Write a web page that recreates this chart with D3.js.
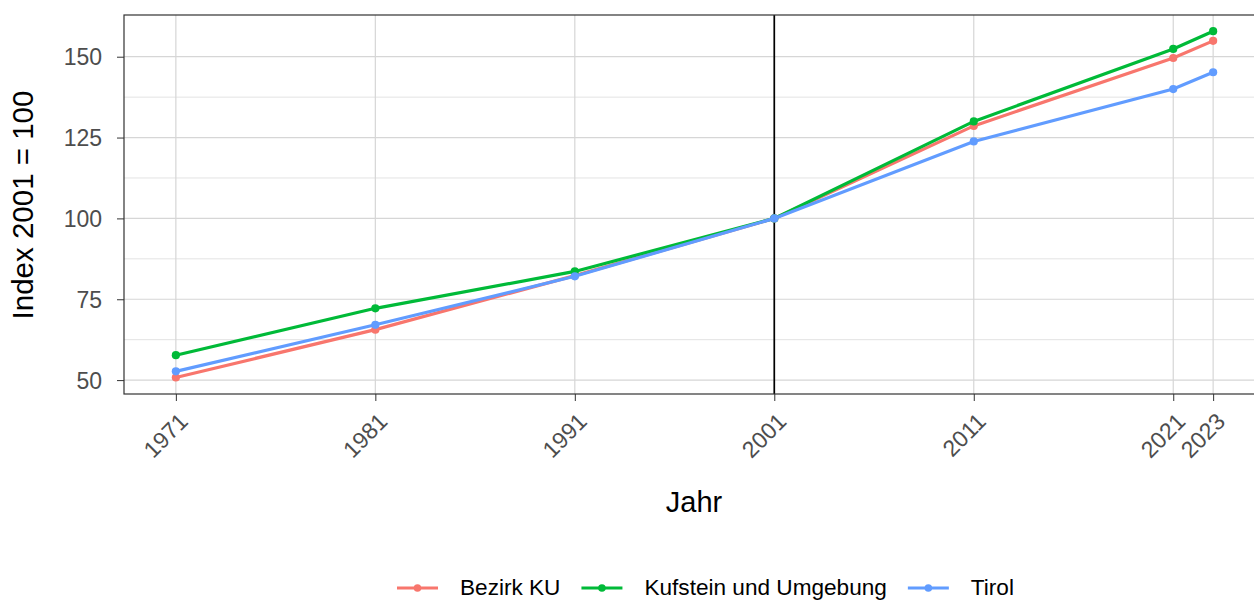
<!DOCTYPE html>
<html><head><meta charset="utf-8">
<script src="https://cdn.jsdelivr.net/npm/d3@7"></script>
<style>body{margin:0;background:#fff}svg{display:block;font-family:"Liberation Sans",Arial,sans-serif}</style>
</head><body><svg id="c" width="1254" height="600"></svg>
<script>
const years = [1971, 1981, 1991, 2001, 2011, 2021, 2023];
const seriesNames = ["Bezirk KU", "Kufstein und Umgebung", "Tirol"];
const bezirkKU = [50.8, 65.6, 82.3, 100, 128.6, 149.6, 154.9];
const kufstein = [57.7, 72.2, 83.6, 100, 130.0, 152.4, 157.9];
const tirol = [52.7, 67.1, 82.1, 100, 123.8, 140.0, 145.2];
const colors = ["#F8766D", "#00BA38", "#619CFF"];
const yTicks = [50, 75, 100, 125, 150];
const yMinor = [62.5, 87.5, 112.5, 137.5];
const refYear = 2001;

const svg = d3.select("#c");
const L = 124, R = 1265, T = 15, B = 394;
const x = d3.scaleLinear().domain([1971 - 2.6, 2023 + 2.6]).range([L, R]);
const y = d3.scaleLinear().domain([45.7, 162.9]).range([B, T]);

const g = svg.append("g");
g.selectAll(".mi").data(yMinor).join("line").attr("x1", L).attr("x2", R)
  .attr("y1", d => y(d)).attr("y2", d => y(d)).attr("stroke", "#E3E3E3").attr("stroke-width", 1);
g.selectAll(".ma").data(yTicks).join("line").attr("x1", L).attr("x2", R)
  .attr("y1", d => y(d)).attr("y2", d => y(d)).attr("stroke", "#D6D6D6").attr("stroke-width", 1.2);
g.selectAll(".mx").data(years).join("line").attr("y1", T).attr("y2", B)
  .attr("x1", d => x(d)).attr("x2", d => x(d)).attr("stroke", "#D6D6D6").attr("stroke-width", 1.2);

g.append("line").attr("x1", x(refYear)).attr("x2", x(refYear)).attr("y1", T).attr("y2", B)
  .attr("stroke", "#000").attr("stroke-width", 1.7);

const all = [bezirkKU, kufstein, tirol];
const line = d3.line().x((d, i) => x(years[i])).y(d => y(d));
all.forEach((vals, s) => {
  g.append("path").datum(vals).attr("d", line).attr("fill", "none")
    .attr("stroke", colors[s]).attr("stroke-width", 3.2);
  g.selectAll(".p" + s).data(vals).join("circle")
    .attr("cx", (d, i) => x(years[i])).attr("cy", d => y(d)).attr("r", 4.1).attr("fill", colors[s]);
});

g.append("rect").attr("x", L).attr("y", T).attr("width", R - L).attr("height", B - T)
  .attr("fill", "none").attr("stroke", "#333").attr("stroke-width", 1.2);

const yAxis = d3.axisLeft(y).tickValues(yTicks).tickSize(7);
const ya = svg.append("g").attr("transform", `translate(${L},0)`).call(yAxis);
ya.select(".domain").remove();
ya.selectAll(".tick line").attr("stroke", "#333");
ya.selectAll(".tick text").attr("fill", "#4D4D4D").style("font-size", "23px").attr("x", -22).attr("dy", "0.36em");

const xAxis = d3.axisBottom(x).tickValues(years).tickFormat(d3.format("d")).tickSize(7);
const xa = svg.append("g").attr("transform", `translate(0,${B})`).call(xAxis);
xa.select(".domain").remove();
xa.selectAll(".tick line").attr("stroke", "#333");
xa.selectAll(".tick text").attr("fill", "#4D4D4D").style("font-size", "23px")
  .attr("text-anchor", "end").attr("dy", null).attr("y", null)
  .attr("transform", "translate(13,29) rotate(-45)");

svg.append("text").attr("x", 694).attr("y", 512).attr("text-anchor", "middle")
  .style("font-size", "29px").attr("fill", "#000").text("Jahr");
svg.append("text").attr("transform", `translate(33,205) rotate(-90)`).attr("text-anchor", "middle")
  .style("font-size", "29.5px").attr("fill", "#000").text("Index 2001 = 100");

let lx = 397;
const ly = 588;
seriesNames.forEach((n, i) => {
  const lg = svg.append("g").attr("transform", `translate(${lx},${ly})`);
  lg.append("line").attr("x1", 0).attr("x2", 41).attr("stroke", colors[i]).attr("stroke-width", 3.2);
  lg.append("circle").attr("cx", 20.5).attr("r", 3.8).attr("fill", colors[i]);
  const t = lg.append("text").attr("x", 63).attr("y", 7).style("font-size", "22.6px").attr("fill", "#000").text(n);
  lx += 63 + t.node().getComputedTextLength() + 21;
});
</script></body></html>
